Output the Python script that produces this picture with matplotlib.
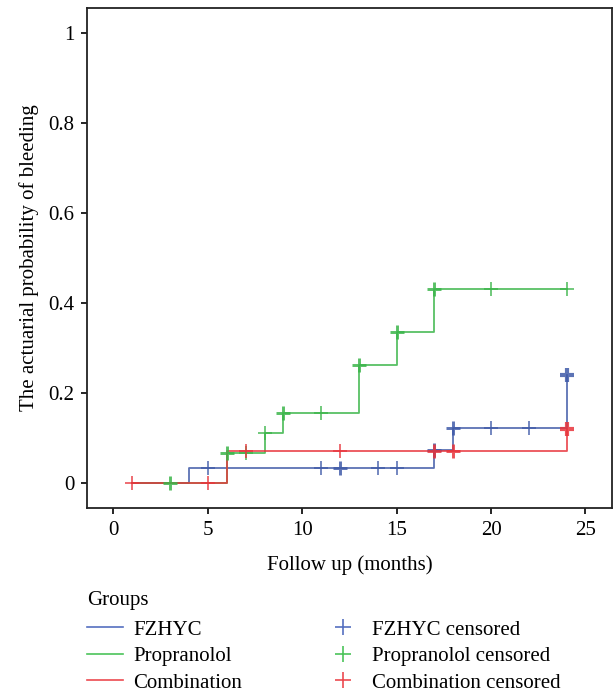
import numpy as np
import matplotlib
matplotlib.use("Agg")
import matplotlib.pyplot as plt
from matplotlib.lines import Line2D

plt.rcParams['font.family'] = ['Liberation Serif', 'DejaVu Serif']

groups = ["FZHYC", "Propranolol", "Combination"]
colors = ["#3f5aa8", "#3bb54a", "#e8343b"]
legend_colors = ["#5570c0", "#4cc35a", "#ec4a50"]

# step curves (time, cumulative probability)
fz_t = [1, 4, 17, 18, 24]
fz_p = [0.0, 0.033, 0.074, 0.122, 0.239]
pr_t = [1, 6, 8, 9, 13, 15, 17, 24]
pr_p = [0.0, 0.067, 0.111, 0.156, 0.262, 0.336, 0.430, 0.430]
co_t = [1, 6, 24]
co_p = [0.0, 0.071, 0.120]

# censored times and multiplicities
fz_cens_t = [5, 11, 12, 14, 15, 17, 18, 20, 22, 24]
fz_cens_n = [1, 1, 2, 1, 1, 2, 2, 1, 1, 3]
pr_cens_t = [3, 6, 7, 8, 9, 11, 13, 15, 17, 20, 24]
pr_cens_n = [2, 2, 1, 1, 2, 1, 2, 2, 2, 1, 1]
co_cens_t = [1, 5, 7, 12, 17, 18, 24]
co_cens_n = [1, 1, 1, 1, 2, 2, 3]

x_ticks = [0, 5, 10, 15, 20, 25]
y_ticks = [0, 0.2, 0.4, 0.6, 0.8, 1]
y_tick_labels = ["0", "0.2", "0.4", "0.6", "0.8", "1"]

curves = [(fz_t, fz_p, fz_cens_t, fz_cens_n),
          (pr_t, pr_p, pr_cens_t, pr_cens_n),
          (co_t, co_p, co_cens_t, co_cens_n)]

FS = 15

fig = plt.figure(figsize=(6.15, 6.94), dpi=100)
ax = fig.add_axes([0.1415, 0.268, 0.8535, 0.7205])

order = [0, 1, 2]
for i in order:
    t, p, ct, cn = curves[i]
    ax.step(t, p, where='post', color=colors[i], lw=1.3, alpha=0.85, zorder=2 + i)
for i in order:
    t, p, ct, cn = curves[i]
    t_arr = np.array(t)
    p_arr = np.array(p)
    for x, n in zip(ct, cn):
        idx = np.searchsorted(t_arr, x, side='right') - 1
        y = p_arr[idx]
        ax.plot([x], [y], marker='+', ms=9.5, mew=1.2 + 0.9 * (n - 1),
                color=colors[i], alpha=0.85, ls='none', zorder=5 + i)

ax.set_xlim(-1.4, 26.4)
ax.set_ylim(-0.056, 1.056)
ax.set_xticks(x_ticks)
ax.set_yticks(y_ticks)
ax.set_yticklabels(y_tick_labels)
ax.tick_params(direction='out', length=4, width=1.2, labelsize=FS, pad=5)
for s in ax.spines.values():
    s.set_linewidth(1.3)
    s.set_color('#222222')
ax.set_xlabel("Follow up (months)", fontsize=FS, labelpad=11)
ax.set_ylabel("The actuarial probability of bleeding", fontsize=FS, labelpad=7)

handles = []
labels = []
for i, g in enumerate(groups):
    handles.append(Line2D([], [], color=legend_colors[i], lw=1.2))
    labels.append(g)
for i, g in enumerate(groups):
    handles.append(Line2D([], [], color=legend_colors[i], marker='+', ls='none', ms=12, mew=1.2))
    labels.append(g + " censored")

fig.text(0.141, 1 - 600 / 694, "Groups", fontsize=FS, ha='left', va='center')
leg = fig.legend(handles, labels, ncol=2, loc='upper left',
                 bbox_to_anchor=(0.141, 1 - 620 / 694), frameon=False, fontsize=FS,
                 handlelength=1.75,
                 columnspacing=3.95, labelspacing=0.33, handletextpad=0.5,
                 borderpad=0.0, borderaxespad=0.0)

fig.savefig("out.png", dpi=100)
